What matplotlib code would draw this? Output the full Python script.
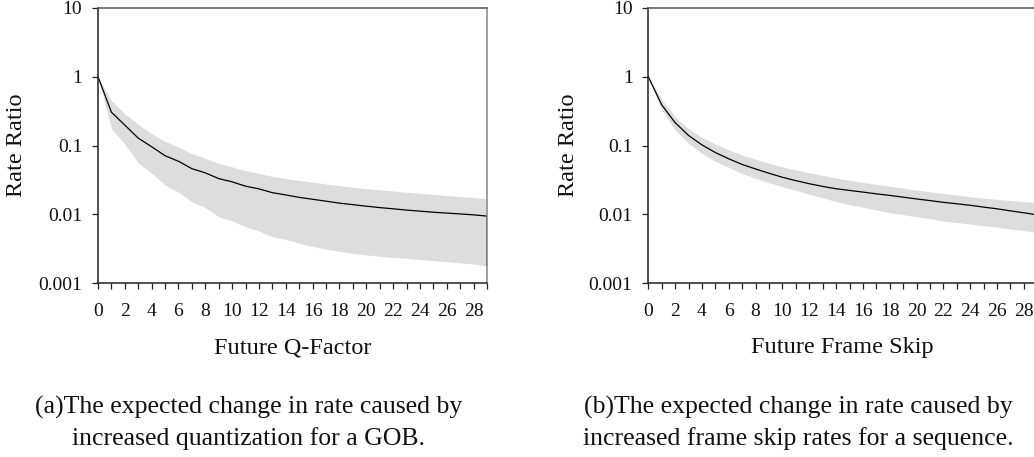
import matplotlib
matplotlib.use("Agg")
import matplotlib.pyplot as plt
import numpy as np

# ---------------- data ----------------
x_vals = list(range(0, 30))

q_mean = [1.0, 0.305, 0.198, 0.128, 0.096, 0.071, 0.059, 0.046, 0.040, 0.033,
          0.0296, 0.0256, 0.0234, 0.0206, 0.0191, 0.0176, 0.0165, 0.0155, 0.0145, 0.0138,
          0.0131, 0.0125, 0.0120, 0.0115, 0.0111, 0.0107, 0.0104, 0.0101, 0.0098, 0.0094]
q_upper = [1.0, 0.45, 0.29, 0.203, 0.148, 0.115, 0.095, 0.076, 0.065, 0.055,
           0.049, 0.043, 0.0393, 0.0355, 0.0331, 0.031, 0.0295, 0.0275, 0.026, 0.0247,
           0.0236, 0.0227, 0.0218, 0.0209, 0.0201, 0.0194, 0.0187, 0.0181, 0.0175, 0.0168]
q_lower = [1.0, 0.175, 0.105, 0.0555, 0.0395, 0.0266, 0.021, 0.0152, 0.0125, 0.0092,
           0.008, 0.0066, 0.0057, 0.0047, 0.0043, 0.0038, 0.0034, 0.0031, 0.0029, 0.0027,
           0.00255, 0.00245, 0.00236, 0.00228, 0.0022, 0.00212, 0.00204, 0.00196, 0.00189, 0.00177]

f_mean = [1.0, 0.39, 0.215, 0.14, 0.102, 0.079, 0.064, 0.053, 0.0455, 0.0395,
          0.0345, 0.0308, 0.0278, 0.0254, 0.0235, 0.0222, 0.021, 0.0198, 0.0188, 0.0177,
          0.0167, 0.0158, 0.0149, 0.0142, 0.0135, 0.0127, 0.012, 0.0112, 0.0105, 0.0098]
f_upper = [1.0, 0.47, 0.26, 0.175, 0.132, 0.105, 0.086, 0.073, 0.063, 0.055,
           0.049, 0.044, 0.0403, 0.0368, 0.0337, 0.0312, 0.0291, 0.0272, 0.0255, 0.024,
           0.0225, 0.0212, 0.0201, 0.019, 0.018, 0.0172, 0.0165, 0.0158, 0.0152, 0.0148]
f_lower = [1.0, 0.33, 0.168, 0.107, 0.077, 0.059, 0.048, 0.039, 0.0333, 0.0288,
           0.0251, 0.0224, 0.0195, 0.0173, 0.0153, 0.0138, 0.0126, 0.0115, 0.0106, 0.0099,
           0.0092, 0.0086, 0.008, 0.0076, 0.0072, 0.0068, 0.0065, 0.0061, 0.0058, 0.0054]

y_ticks = [0.001, 0.01, 0.1, 1, 10]
y_tick_labels = ["0.001", "0.01", "0.1", "1", "10"]
x_tick_labels = [str(v) if v % 2 == 0 else "" for v in x_vals]

xlabels = ["Future Q-Factor", "Future Frame Skip"]
ylabel = "Rate Ratio"
captions = [["(a)The expected change in rate caused by", "increased quantization for a GOB."],
            ["(b)The expected change in rate caused by", "increased frame skip rates for a sequence."]]

# ---------------- figure ----------------
W, H = 1034, 457
plt.rcParams['font.family'] = ['Liberation Serif', 'DejaVu Serif']
fig = plt.figure(figsize=(W / 100, H / 100), dpi=100)

def fx(px):
    return px / W

def fy(py):
    return (H - py) / H

ax_top, ax_bot = 8, 283
unit = 389 / 29.0
lefts = [98, 648.3]
label_x = [16.5, 568]
caption_cx = [249, 798.5]

datasets = [(q_mean, q_upper, q_lower), (f_mean, f_upper, f_lower)]

for i, (mean, upper, lower) in enumerate(datasets):
    L = lefts[i]
    ax = fig.add_axes([fx(L), fy(ax_bot), 29 * unit / W, (ax_bot - ax_top) / H])
    ax.fill_between(x_vals, lower, upper, color='#dddddd', linewidth=0)
    ax.plot(x_vals, mean, color='black', linewidth=0.9)
    if i == 0:
        ax.vlines(x_vals[-1], lower[-1], mean[-1], color='#333333', linewidth=1.2)
    ax.set_yscale('log')
    ax.set_ylim(0.001, 10)
    ax.set_xlim(0, 29)
    ax.set_yticks(y_ticks)
    ax.set_yticklabels(y_tick_labels)
    ax.yaxis.set_minor_locator(matplotlib.ticker.NullLocator())
    ax.set_xticks(x_vals)
    ax.set_xticklabels(x_tick_labels)
    ax.tick_params(axis='both', direction='out', length=4.3, width=0.9, color='#222222',
                   labelsize=14, labelcolor='#111111')
    ax.tick_params(axis='y', pad=7)
    ax.tick_params(axis='x', pad=10)
    ax.spines['left'].set_color('#222222')
    ax.spines['bottom'].set_color('#222222')
    ax.spines['top'].set_color('#555555')
    ax.spines['right'].set_color('#888888')
    for s in ax.spines.values():
        s.set_linewidth(1.1)
    ax.set_facecolor('white')

    cx = L + 29 * unit / 2
    fig.text(fx(label_x[i]), fy((ax_top + ax_bot) / 2), ylabel, rotation=90,
             ha='center', va='center', fontsize=17.5, color='#111111')
    fig.text(fx(cx), fy(353.3), xlabels[i], ha='center', va='baseline',
             fontsize=17.5, color='#111111')
    fig.text(fx(caption_cx[i]), fy(413.3), captions[i][0], ha='center', va='baseline',
             fontsize=18.5, color='#111111')
    fig.text(fx(caption_cx[i]), fy(445), captions[i][1], ha='center', va='baseline',
             fontsize=18.5, color='#111111')

fig.savefig('out.png', dpi=100)
